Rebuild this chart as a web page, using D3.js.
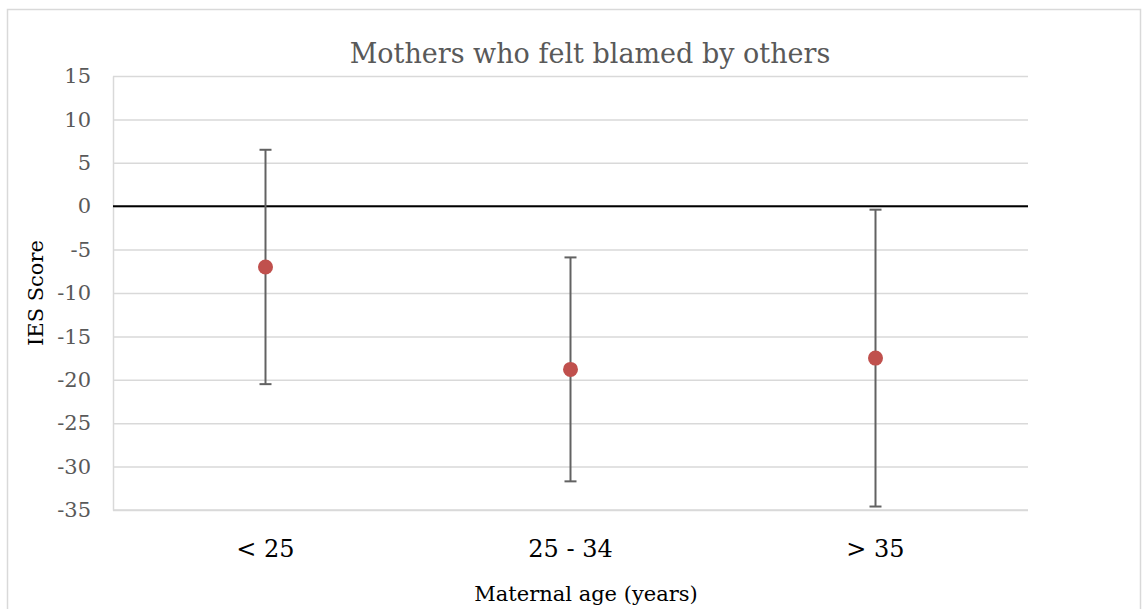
<!DOCTYPE html>
<html>
<head>
<meta charset="utf-8">
<script src="https://cdn.jsdelivr.net/npm/d3@7"></script>
<style>
  body { margin: 0; background: #fff; }
  svg { font-family: "DejaVu Serif", "Liberation Serif", serif; }
  .grid line { stroke: #d9d9d9; stroke-width: 1.5; }
  .grid .domain { display: none; }
</style>
</head>
<body>
<svg width="1148" height="609"></svg>
<script>
    const categories = ["< 25", "25 - 34", "> 35"];
    const means = [-7.0, -18.8, -17.5];
    const upper = [6.5, -5.9, -0.4];
    const lower = [-20.5, -31.7, -34.6];
    const yTicks = [15, 10, 5, 0, -5, -10, -15, -20, -25, -30, -35];

    const data = categories.map((c, i) => ({ cat: c, mean: means[i], hi: upper[i], lo: lower[i] }));

    const svg = d3.select("svg"),
      margin = { top: 76, right: 120, bottom: 99, left: 113 },
      width = 1148 - margin.left - margin.right,
      height = 609 - margin.top - margin.bottom;

    // outer chart frame
    svg.append("rect")
      .attr("x", 7.5).attr("y", 9.5)
      .attr("width", 1133).attr("height", 620)
      .attr("fill", "none")
      .attr("stroke", "#d9d9d9")
      .attr("stroke-width", 1.5);

    const g = svg.append("g").attr("transform", `translate(${margin.left},${margin.top})`);

    const x = d3.scaleBand()
      .domain(categories)
      .range([0, width]);

    const y = d3.scaleLinear()
      .domain([-35, 15])
      .range([height, 0]);

    g.append("g")
      .attr("class", "grid")
      .call(d3.axisLeft(y).tickValues(yTicks).tickSize(-width).tickFormat(""));

    // y axis labels (plain hyphen for negatives)
    const yAxis = g.append("g")
      .call(d3.axisLeft(y).tickValues(yTicks).tickSize(0).tickPadding(22).tickFormat(d => String(d)));
    yAxis.select(".domain").attr("stroke", "#d9d9d9").attr("stroke-width", 1.5);
    yAxis.selectAll("text")
      .style("font-size", "21px")
      .style("font-family", "DejaVu Serif")
      .style("fill", "#595959");

    // zero line
    g.append("line")
      .attr("x1", 0).attr("x2", width)
      .attr("y1", y(0)).attr("y2", y(0))
      .attr("stroke", "#000")
      .attr("stroke-width", 2);

    // bottom axis line
    g.append("line")
      .attr("x1", 0).attr("x2", width)
      .attr("y1", y(-35)).attr("y2", y(-35))
      .attr("stroke", "#d9d9d9")
      .attr("stroke-width", 1.5);

    // category labels
    const xAxis = g.append("g")
      .attr("transform", `translate(0, ${height})`)
      .call(d3.axisBottom(x).tickSize(0).tickPadding(30));
    xAxis.select(".domain").remove();
    xAxis.selectAll("text")
      .style("font-size", "24px")
      .style("font-family", "DejaVu Serif")
      .style("fill", "#000");

    const cx = d => x(d.cat) + x.bandwidth() / 2;

    // error bars
    g.selectAll(".err")
      .data(data)
      .enter()
      .append("line")
      .attr("x1", cx).attr("x2", cx)
      .attr("y1", d => y(d.hi))
      .attr("y2", d => y(d.lo))
      .attr("stroke", "#626262")
      .attr("stroke-width", 2);

    g.selectAll(".cap-top")
      .data(data)
      .enter()
      .append("line")
      .attr("x1", d => cx(d) - 6).attr("x2", d => cx(d) + 6)
      .attr("y1", d => y(d.hi)).attr("y2", d => y(d.hi))
      .attr("stroke", "#626262")
      .attr("stroke-width", 2);

    g.selectAll(".cap-bottom")
      .data(data)
      .enter()
      .append("line")
      .attr("x1", d => cx(d) - 6).attr("x2", d => cx(d) + 6)
      .attr("y1", d => y(d.lo)).attr("y2", d => y(d.lo))
      .attr("stroke", "#626262")
      .attr("stroke-width", 2);

    g.selectAll(".dot")
      .data(data)
      .enter()
      .append("circle")
      .attr("cx", cx)
      .attr("cy", d => y(d.mean))
      .attr("r", 7.5)
      .attr("fill", "#c0504d");

    // title
    svg.append("text")
      .attr("x", 590)
      .attr("y", 63)
      .attr("text-anchor", "middle")
      .attr("font-size", "27px")
      .attr("fill", "#595959")
      .text("Mothers who felt blamed by others");

    // X axis label
    svg.append("text")
      .attr("x", 586)
      .attr("y", 601)
      .attr("text-anchor", "middle")
      .attr("font-size", "21px")
      .attr("fill", "#000")
      .text("Maternal age (years)");

    // Y axis label
    svg.append("text")
      .attr("transform", "rotate(-90)")
      .attr("x", -293)
      .attr("y", 43)
      .attr("text-anchor", "middle")
      .attr("font-size", "21px")
      .attr("fill", "#000")
      .text("IES Score");
</script>
</body>
</html>
